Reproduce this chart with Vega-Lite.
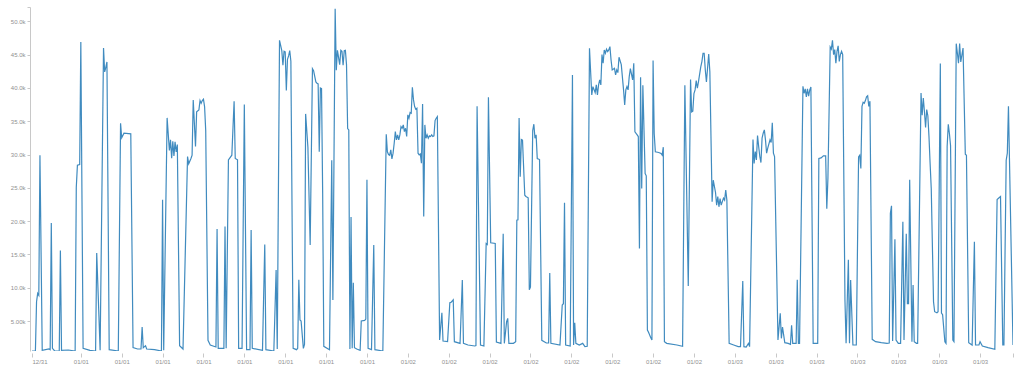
{
"$schema":"https://vega.github.io/schema/vega-lite/v6.json",
"width":981,"height":344,
"autosize":{"type":"none"},
"padding":{"left":32,"top":7,"right":11,"bottom":17},
"background":"white",
"config":{"view":{"stroke":null},"axis":{"grid":false,"labelFont":"Liberation Sans","labelFontSize":6,"labelColor":"#909090"}},
"datasets":{"d0":[
{"t":"2023-12-31T20:25","v":500},{"t":"2023-12-31T20:40","v":500},{"t":"2023-12-31T20:45","v":7900},{"t":"2023-12-31T20:50","v":9150},{"t":"2023-12-31T20:55","v":8850},{"t":"2023-12-31T21:00","v":29900},{"t":"2023-12-31T21:10","v":600},{"t":"2023-12-31T21:40","v":800},{"t":"2023-12-31T21:45","v":700},{"t":"2023-12-31T21:50","v":19700},{"t":"2023-12-31T21:55","v":900},{"t":"2023-12-31T22:05","v":500},{"t":"2023-12-31T22:25","v":500},{"t":"2023-12-31T22:30","v":15600},{"t":"2023-12-31T22:35","v":600},{"t":"2023-12-31T23:05","v":650},{"t":"2023-12-31T23:35","v":500},{"t":"2023-12-31T23:40","v":25100},{"t":"2023-12-31T23:45","v":28400},{"t":"2023-12-31T23:55","v":28500},
{"t":"2024-01-01T00:00","v":46900},{"t":"2024-01-01T00:10","v":900},{"t":"2024-01-01T00:40","v":600},{"t":"2024-01-01T01:05","v":500},{"t":"2024-01-01T01:10","v":15200},{"t":"2024-01-01T01:25","v":600},{"t":"2024-01-01T01:40","v":46000},{"t":"2024-01-01T01:45","v":42400},{"t":"2024-01-01T01:50","v":43100},{"t":"2024-01-01T01:55","v":43900},{"t":"2024-01-01T02:05","v":700},{"t":"2024-01-01T02:45","v":500},{"t":"2024-01-01T02:55","v":34700},{"t":"2024-01-01T03:00","v":32500},{"t":"2024-01-01T03:10","v":33200},{"t":"2024-01-01T03:40","v":33100},{"t":"2024-01-01T03:50","v":1000},{"t":"2024-01-01T04:10","v":800},{"t":"2024-01-01T04:25","v":800},{"t":"2024-01-01T04:30","v":4100},{"t":"2024-01-01T04:35","v":1000},{"t":"2024-01-01T04:45","v":1300},{"t":"2024-01-01T04:50","v":800},{"t":"2024-01-01T05:25","v":700},{"t":"2024-01-01T05:55","v":500},{"t":"2024-01-01T06:00","v":23200},{"t":"2024-01-01T06:05","v":600},{"t":"2024-01-01T06:20","v":35500},{"t":"2024-01-01T06:30","v":30600},{"t":"2024-01-01T06:35","v":32200},{"t":"2024-01-01T06:40","v":29450},{"t":"2024-01-01T06:45","v":32000},{"t":"2024-01-01T06:50","v":29800},{"t":"2024-01-01T06:55","v":31900},{"t":"2024-01-01T07:00","v":30400},{"t":"2024-01-01T07:05","v":31500},{"t":"2024-01-01T07:15","v":1300},{"t":"2024-01-01T07:30","v":800},{"t":"2024-01-01T07:50","v":29700},{"t":"2024-01-01T07:55","v":28600},{"t":"2024-01-01T08:05","v":29400},{"t":"2024-01-01T08:10","v":29900},{"t":"2024-01-01T08:15","v":38200},{"t":"2024-01-01T08:25","v":31200},{"t":"2024-01-01T08:30","v":36400},{"t":"2024-01-01T08:40","v":36700},{"t":"2024-01-01T08:45","v":38100},{"t":"2024-01-01T08:50","v":37700},{"t":"2024-01-01T08:55","v":38100},{"t":"2024-01-01T09:00","v":38300},{"t":"2024-01-01T09:05","v":37200},{"t":"2024-01-01T09:10","v":33600},{"t":"2024-01-01T09:20","v":2100},{"t":"2024-01-01T09:30","v":1400},{"t":"2024-01-01T09:55","v":1100},{"t":"2024-01-01T10:00","v":18800},{"t":"2024-01-01T10:05","v":900},{"t":"2024-01-01T10:30","v":900},{"t":"2024-01-01T10:35","v":19200},{"t":"2024-01-01T10:40","v":900},{"t":"2024-01-01T10:50","v":29200},{"t":"2024-01-01T11:05","v":29900},{"t":"2024-01-01T11:15","v":38000},{"t":"2024-01-01T11:20","v":29400},{"t":"2024-01-01T11:30","v":29200},{"t":"2024-01-01T11:35","v":900},{"t":"2024-01-01T11:50","v":900},{"t":"2024-01-01T12:00","v":37500},{"t":"2024-01-01T12:10","v":700},{"t":"2024-01-01T12:25","v":700},{"t":"2024-01-01T12:30","v":18650},{"t":"2024-01-01T12:35","v":900},{"t":"2024-01-01T13:20","v":600},{"t":"2024-01-01T13:30","v":16500},{"t":"2024-01-01T13:35","v":700},{"t":"2024-01-01T14:10","v":500},{"t":"2024-01-01T14:20","v":12650},{"t":"2024-01-01T14:25","v":800},{"t":"2024-01-01T14:35","v":47150},{"t":"2024-01-01T14:45","v":45600},{"t":"2024-01-01T14:50","v":43400},{"t":"2024-01-01T14:55","v":45500},{"t":"2024-01-01T15:00","v":45400},{"t":"2024-01-01T15:05","v":39600},{"t":"2024-01-01T15:10","v":44300},{"t":"2024-01-01T15:15","v":44800},{"t":"2024-01-01T15:20","v":45600},{"t":"2024-01-01T15:25","v":44000},{"t":"2024-01-01T15:35","v":900},{"t":"2024-01-01T15:50","v":700},{"t":"2024-01-01T15:55","v":900},{"t":"2024-01-01T16:00","v":11200},{"t":"2024-01-01T16:05","v":5150},{"t":"2024-01-01T16:10","v":5000},{"t":"2024-01-01T16:20","v":900},{"t":"2024-01-01T16:25","v":1500},{"t":"2024-01-01T16:30","v":36100},{"t":"2024-01-01T16:40","v":31100},{"t":"2024-01-01T16:50","v":16400},{"t":"2024-01-01T17:00","v":42900},{"t":"2024-01-01T17:05","v":42600},{"t":"2024-01-01T17:15","v":40900},{"t":"2024-01-01T17:20","v":40700},{"t":"2024-01-01T17:25","v":40600},{"t":"2024-01-01T17:30","v":30400},{"t":"2024-01-01T17:35","v":40000},{"t":"2024-01-01T17:40","v":39900},{"t":"2024-01-01T17:45","v":24200},{"t":"2024-01-01T17:50","v":1200},{"t":"2024-01-01T18:15","v":700},{"t":"2024-01-01T18:25","v":29150},{"t":"2024-01-01T18:30","v":8150},{"t":"2024-01-01T18:40","v":51900},{"t":"2024-01-01T18:45","v":42650},{"t":"2024-01-01T18:50","v":45650},{"t":"2024-01-01T19:00","v":43500},{"t":"2024-01-01T19:05","v":45650},{"t":"2024-01-01T19:10","v":45500},{"t":"2024-01-01T19:15","v":43400},{"t":"2024-01-01T19:20","v":45600},{"t":"2024-01-01T19:25","v":45650},{"t":"2024-01-01T19:30","v":43500},{"t":"2024-01-01T19:35","v":33900},{"t":"2024-01-01T19:40","v":33700},{"t":"2024-01-01T19:45","v":800},{"t":"2024-01-01T19:50","v":20600},{"t":"2024-01-01T19:55","v":900},{"t":"2024-01-01T20:00","v":10750},{"t":"2024-01-01T20:05","v":1000},{"t":"2024-01-01T20:15","v":800},{"t":"2024-01-01T20:30","v":600},{"t":"2024-01-01T20:35","v":5000},{"t":"2024-01-01T20:50","v":5100},{"t":"2024-01-01T20:55","v":5300},{"t":"2024-01-01T21:00","v":26200},{"t":"2024-01-01T21:05","v":900},{"t":"2024-01-01T21:20","v":700},{"t":"2024-01-01T21:30","v":16400},{"t":"2024-01-01T21:35","v":700},{"t":"2024-01-01T22:10","v":500},{"t":"2024-01-01T22:25","v":33050},{"t":"2024-01-01T22:30","v":30400},{"t":"2024-01-01T22:35","v":30000},{"t":"2024-01-01T22:40","v":29900},{"t":"2024-01-01T22:45","v":30700},{"t":"2024-01-01T22:50","v":29350},{"t":"2024-01-01T22:55","v":30200},{"t":"2024-01-01T23:00","v":31700},{"t":"2024-01-01T23:05","v":33450},{"t":"2024-01-01T23:10","v":32200},{"t":"2024-01-01T23:15","v":32950},{"t":"2024-01-01T23:20","v":32200},{"t":"2024-01-01T23:25","v":32950},{"t":"2024-01-01T23:30","v":34200},{"t":"2024-01-01T23:35","v":33950},{"t":"2024-01-01T23:40","v":34450},{"t":"2024-01-01T23:45","v":33450},{"t":"2024-01-01T23:50","v":33950},{"t":"2024-01-01T23:55","v":32700},
{"t":"2024-01-02T00:00","v":35950},{"t":"2024-01-02T00:05","v":35450},{"t":"2024-01-02T00:10","v":36300},{"t":"2024-01-02T00:15","v":36200},{"t":"2024-01-02T00:20","v":40100},{"t":"2024-01-02T00:25","v":38200},{"t":"2024-01-02T00:30","v":37200},{"t":"2024-01-02T00:35","v":36800},{"t":"2024-01-02T00:40","v":36950},{"t":"2024-01-02T00:45","v":30200},{"t":"2024-01-02T00:50","v":29950},{"t":"2024-01-02T00:55","v":30100},{"t":"2024-01-02T01:00","v":28700},{"t":"2024-01-02T01:05","v":37600},{"t":"2024-01-02T01:10","v":20700},{"t":"2024-01-02T01:15","v":34450},{"t":"2024-01-02T01:20","v":32450},{"t":"2024-01-02T01:25","v":32950},{"t":"2024-01-02T01:30","v":32450},{"t":"2024-01-02T01:35","v":32800},{"t":"2024-01-02T01:40","v":32700},{"t":"2024-01-02T01:45","v":32950},{"t":"2024-01-02T01:50","v":32700},{"t":"2024-01-02T01:55","v":32800},{"t":"2024-01-02T02:00","v":35100},{"t":"2024-01-02T02:05","v":35450},{"t":"2024-01-02T02:10","v":35700},{"t":"2024-01-02T02:20","v":2150},{"t":"2024-01-02T02:30","v":6250},{"t":"2024-01-02T02:35","v":2000},{"t":"2024-01-02T02:55","v":1900},{"t":"2024-01-02T03:05","v":7750},{"t":"2024-01-02T03:10","v":7800},{"t":"2024-01-02T03:20","v":8200},{"t":"2024-01-02T03:25","v":1900},{"t":"2024-01-02T03:50","v":1650},{"t":"2024-01-02T04:00","v":11150},{"t":"2024-01-02T04:05","v":1650},{"t":"2024-01-02T04:25","v":1400},{"t":"2024-01-02T04:55","v":1250},{"t":"2024-01-02T05:00","v":1300},{"t":"2024-01-02T05:05","v":37250},{"t":"2024-01-02T05:20","v":1400},{"t":"2024-01-02T05:35","v":1250},{"t":"2024-01-02T05:45","v":16650},{"t":"2024-01-02T05:50","v":16500},{"t":"2024-01-02T05:55","v":38600},{"t":"2024-01-02T06:05","v":16750},{"t":"2024-01-02T06:25","v":16650},{"t":"2024-01-02T06:30","v":1850},{"t":"2024-01-02T06:50","v":1650},{"t":"2024-01-02T07:00","v":18100},{"t":"2024-01-02T07:05","v":1650},{"t":"2024-01-02T07:15","v":4900},{"t":"2024-01-02T07:20","v":5400},{"t":"2024-01-02T07:25","v":1650},{"t":"2024-01-02T07:45","v":1650},{"t":"2024-01-02T07:55","v":1900},{"t":"2024-01-02T08:00","v":20150},{"t":"2024-01-02T08:05","v":20200},{"t":"2024-01-02T08:10","v":35500},{"t":"2024-01-02T08:15","v":26650},{"t":"2024-01-02T08:20","v":32250},{"t":"2024-01-02T08:25","v":32150},{"t":"2024-01-02T08:35","v":23900},{"t":"2024-01-02T08:40","v":23700},{"t":"2024-01-02T08:50","v":23500},{"t":"2024-01-02T08:55","v":9700},{"t":"2024-01-02T09:00","v":10100},{"t":"2024-01-02T09:10","v":33600},{"t":"2024-01-02T09:15","v":34550},{"t":"2024-01-02T09:20","v":32450},{"t":"2024-01-02T09:25","v":32950},{"t":"2024-01-02T09:30","v":29400},{"t":"2024-01-02T09:40","v":29250},{"t":"2024-01-02T09:50","v":2100},{"t":"2024-01-02T10:10","v":1700},{"t":"2024-01-02T10:20","v":1700},{"t":"2024-01-02T10:25","v":12200},{"t":"2024-01-02T10:30","v":1650},{"t":"2024-01-02T11:10","v":1400},{"t":"2024-01-02T11:20","v":7400},{"t":"2024-01-02T11:25","v":7600},{"t":"2024-01-02T11:30","v":22750},{"t":"2024-01-02T11:35","v":1400},{"t":"2024-01-02T11:55","v":1250},{"t":"2024-01-02T12:05","v":41950},{"t":"2024-01-02T12:10","v":1400},{"t":"2024-01-02T12:15","v":4750},{"t":"2024-01-02T12:20","v":1650},{"t":"2024-01-02T12:35","v":1400},{"t":"2024-01-02T12:50","v":1650},{"t":"2024-01-02T13:00","v":1150},{"t":"2024-01-02T13:10","v":1200},{"t":"2024-01-02T13:20","v":45950},{"t":"2024-01-02T13:30","v":38950},{"t":"2024-01-02T13:35","v":40200},{"t":"2024-01-02T13:45","v":39300},{"t":"2024-01-02T13:50","v":40450},{"t":"2024-01-02T13:55","v":38950},{"t":"2024-01-02T14:00","v":40450},{"t":"2024-01-02T14:05","v":41200},{"t":"2024-01-02T14:10","v":40450},{"t":"2024-01-02T14:15","v":45000},{"t":"2024-01-02T14:20","v":43700},{"t":"2024-01-02T14:25","v":45700},{"t":"2024-01-02T14:30","v":45200},{"t":"2024-01-02T14:35","v":45800},{"t":"2024-01-02T14:40","v":45450},{"t":"2024-01-02T14:45","v":45700},{"t":"2024-01-02T14:50","v":46200},{"t":"2024-01-02T14:55","v":44200},{"t":"2024-01-02T15:00","v":42700},{"t":"2024-01-02T15:10","v":42950},{"t":"2024-01-02T15:15","v":41950},{"t":"2024-01-02T15:20","v":42700},{"t":"2024-01-02T15:25","v":42300},{"t":"2024-01-02T15:30","v":44600},{"t":"2024-01-02T15:40","v":43500},{"t":"2024-01-02T15:50","v":39700},{"t":"2024-01-02T15:55","v":37450},{"t":"2024-01-02T16:00","v":39700},{"t":"2024-01-02T16:05","v":40200},{"t":"2024-01-02T16:10","v":39700},{"t":"2024-01-02T16:15","v":41700},{"t":"2024-01-02T16:20","v":42900},{"t":"2024-01-02T16:30","v":41200},{"t":"2024-01-02T16:35","v":43700},{"t":"2024-01-02T16:40","v":33400},{"t":"2024-01-02T16:50","v":32950},{"t":"2024-01-02T16:55","v":32700},{"t":"2024-01-02T17:00","v":15900},{"t":"2024-01-02T17:05","v":41600},{"t":"2024-01-02T17:10","v":24900},{"t":"2024-01-02T17:15","v":40400},{"t":"2024-01-02T17:25","v":27150},{"t":"2024-01-02T17:30","v":26800},{"t":"2024-01-02T17:35","v":3650},{"t":"2024-01-02T17:40","v":3300},{"t":"2024-01-02T17:50","v":2500},{"t":"2024-01-02T17:55","v":2150},{"t":"2024-01-02T18:00","v":44100},{"t":"2024-01-02T18:05","v":33150},{"t":"2024-01-02T18:10","v":30400},{"t":"2024-01-02T18:25","v":30300},{"t":"2024-01-02T18:35","v":30150},{"t":"2024-01-02T18:40","v":29900},{"t":"2024-01-02T18:45","v":31100},{"t":"2024-01-02T18:50","v":1900},{"t":"2024-01-02T19:00","v":1650},{"t":"2024-01-02T19:45","v":1400},{"t":"2024-01-02T20:10","v":1200},{"t":"2024-01-02T20:20","v":40400},{"t":"2024-01-02T20:35","v":10250},{"t":"2024-01-02T20:45","v":41250},{"t":"2024-01-02T20:50","v":36400},{"t":"2024-01-02T20:55","v":36500},{"t":"2024-01-02T21:00","v":39150},{"t":"2024-01-02T21:05","v":39700},{"t":"2024-01-02T21:10","v":41100},{"t":"2024-01-02T21:15","v":39950},{"t":"2024-01-02T21:20","v":40950},{"t":"2024-01-02T21:30","v":43150},{"t":"2024-01-02T21:35","v":43950},{"t":"2024-01-02T21:40","v":45200},{"t":"2024-01-02T21:45","v":45200},{"t":"2024-01-02T21:50","v":42700},{"t":"2024-01-02T21:55","v":40900},{"t":"2024-01-02T22:05","v":45100},{"t":"2024-01-02T22:10","v":42450},{"t":"2024-01-02T22:20","v":22900},{"t":"2024-01-02T22:25","v":26150},{"t":"2024-01-02T22:35","v":24300},{"t":"2024-01-02T22:40","v":22400},{"t":"2024-01-02T22:45","v":23700},{"t":"2024-01-02T22:50","v":22150},{"t":"2024-01-02T22:55","v":23400},{"t":"2024-01-02T23:00","v":22400},{"t":"2024-01-02T23:10","v":23450},{"t":"2024-01-02T23:15","v":23150},{"t":"2024-01-02T23:20","v":24650},{"t":"2024-01-02T23:25","v":23150},{"t":"2024-01-02T23:35","v":1650},{"t":"2024-01-02T23:55","v":1400},
{"t":"2024-01-03T00:15","v":1150},{"t":"2024-01-03T00:25","v":1150},{"t":"2024-01-03T00:35","v":11000},{"t":"2024-01-03T00:40","v":1150},{"t":"2024-01-03T00:50","v":1100},{"t":"2024-01-03T01:00","v":1650},{"t":"2024-01-03T01:05","v":1150},{"t":"2024-01-03T01:20","v":32250},{"t":"2024-01-03T01:25","v":28650},{"t":"2024-01-03T01:30","v":30450},{"t":"2024-01-03T01:35","v":29200},{"t":"2024-01-03T01:40","v":32850},{"t":"2024-01-03T01:45","v":31200},{"t":"2024-01-03T01:50","v":29700},{"t":"2024-01-03T01:55","v":28800},{"t":"2024-01-03T02:00","v":32450},{"t":"2024-01-03T02:05","v":33200},{"t":"2024-01-03T02:10","v":33700},{"t":"2024-01-03T02:15","v":32200},{"t":"2024-01-03T02:20","v":30200},{"t":"2024-01-03T02:25","v":30950},{"t":"2024-01-03T02:35","v":32200},{"t":"2024-01-03T02:40","v":31800},{"t":"2024-01-03T02:45","v":34750},{"t":"2024-01-03T02:50","v":30200},{"t":"2024-01-03T02:55","v":29700},{"t":"2024-01-03T03:10","v":2150},{"t":"2024-01-03T03:20","v":6150},{"t":"2024-01-03T03:25","v":2400},{"t":"2024-01-03T03:30","v":4100},{"t":"2024-01-03T03:40","v":1750},{"t":"2024-01-03T03:55","v":1650},{"t":"2024-01-03T04:05","v":1500},{"t":"2024-01-03T04:10","v":4350},{"t":"2024-01-03T04:15","v":1650},{"t":"2024-01-03T04:30","v":1650},{"t":"2024-01-03T04:35","v":11200},{"t":"2024-01-03T04:40","v":1650},{"t":"2024-01-03T04:45","v":1650},{"t":"2024-01-03T05:00","v":40250},{"t":"2024-01-03T05:05","v":39200},{"t":"2024-01-03T05:10","v":39850},{"t":"2024-01-03T05:15","v":38650},{"t":"2024-01-03T05:20","v":39850},{"t":"2024-01-03T05:25","v":38750},{"t":"2024-01-03T05:30","v":39700},{"t":"2024-01-03T05:35","v":40150},{"t":"2024-01-03T05:45","v":1650},{"t":"2024-01-03T06:05","v":1650},{"t":"2024-01-03T06:10","v":29400},{"t":"2024-01-03T06:20","v":29500},{"t":"2024-01-03T06:30","v":29800},{"t":"2024-01-03T06:40","v":29800},{"t":"2024-01-03T06:45","v":21850},{"t":"2024-01-03T06:50","v":26450},{"t":"2024-01-03T07:00","v":46150},{"t":"2024-01-03T07:05","v":45830},{"t":"2024-01-03T07:10","v":47150},{"t":"2024-01-03T07:15","v":45000},{"t":"2024-01-03T07:20","v":45750},{"t":"2024-01-03T07:25","v":43730},{"t":"2024-01-03T07:30","v":45480},{"t":"2024-01-03T07:35","v":46330},{"t":"2024-01-03T07:40","v":43980},{"t":"2024-01-03T07:45","v":45000},{"t":"2024-01-03T07:50","v":45500},{"t":"2024-01-03T07:55","v":45000},{"t":"2024-01-03T08:05","v":8150},{"t":"2024-01-03T08:10","v":1650},{"t":"2024-01-03T08:20","v":14200},{"t":"2024-01-03T08:25","v":1650},{"t":"2024-01-03T08:30","v":11150},{"t":"2024-01-03T08:40","v":1400},{"t":"2024-01-03T08:55","v":1400},{"t":"2024-01-03T09:05","v":29650},{"t":"2024-01-03T09:10","v":29900},{"t":"2024-01-03T09:15","v":27900},{"t":"2024-01-03T09:20","v":37250},{"t":"2024-01-03T09:25","v":37830},{"t":"2024-01-03T09:30","v":37700},{"t":"2024-01-03T09:35","v":38100},{"t":"2024-01-03T09:40","v":38650},{"t":"2024-01-03T09:45","v":38820},{"t":"2024-01-03T09:50","v":37220},{"t":"2024-01-03T09:55","v":38000},{"t":"2024-01-03T10:05","v":2250},{"t":"2024-01-03T10:20","v":1900},{"t":"2024-01-03T10:45","v":1750},{"t":"2024-01-03T11:10","v":1650},{"t":"2024-01-03T11:20","v":1700},{"t":"2024-01-03T11:25","v":21190},{"t":"2024-01-03T11:30","v":22290},{"t":"2024-01-03T11:35","v":2000},{"t":"2024-01-03T11:45","v":17280},{"t":"2024-01-03T11:50","v":2150},{"t":"2024-01-03T12:00","v":1650},{"t":"2024-01-03T12:10","v":1650},{"t":"2024-01-03T12:20","v":19900},{"t":"2024-01-03T12:25","v":2150},{"t":"2024-01-03T12:35","v":18100},{"t":"2024-01-03T12:40","v":7600},{"t":"2024-01-03T12:45","v":7600},{"t":"2024-01-03T12:50","v":26200},{"t":"2024-01-03T13:00","v":1900},{"t":"2024-01-03T13:05","v":10400},{"t":"2024-01-03T13:10","v":1900},{"t":"2024-01-03T13:20","v":1650},{"t":"2024-01-03T13:25","v":1650},{"t":"2024-01-03T13:40","v":39250},{"t":"2024-01-03T13:45","v":35900},{"t":"2024-01-03T13:50","v":38480},{"t":"2024-01-03T13:55","v":36460},{"t":"2024-01-03T14:00","v":34050},{"t":"2024-01-03T14:05","v":36750},{"t":"2024-01-03T14:10","v":35820},{"t":"2024-01-03T14:15","v":32710},{"t":"2024-01-03T14:20","v":28650},{"t":"2024-01-03T14:25","v":24900},{"t":"2024-01-03T14:35","v":7900},{"t":"2024-01-03T14:40","v":6400},{"t":"2024-01-03T14:50","v":6250},{"t":"2024-01-03T14:55","v":6400},{"t":"2024-01-03T15:05","v":43650},{"t":"2024-01-03T15:10","v":6200},{"t":"2024-01-03T15:15","v":5950},{"t":"2024-01-03T15:25","v":1900},{"t":"2024-01-03T15:30","v":1650},{"t":"2024-01-03T15:35","v":31200},{"t":"2024-01-03T15:40","v":34550},{"t":"2024-01-03T15:45","v":33150},{"t":"2024-01-03T15:50","v":31350},{"t":"2024-01-03T16:00","v":2150},{"t":"2024-01-03T16:05","v":1900},{"t":"2024-01-03T16:15","v":46650},{"t":"2024-01-03T16:20","v":45240},{"t":"2024-01-03T16:25","v":43700},{"t":"2024-01-03T16:30","v":46650},{"t":"2024-01-03T16:35","v":43900},{"t":"2024-01-03T16:45","v":45990},{"t":"2024-01-03T16:55","v":30050},{"t":"2024-01-03T17:00","v":29900},{"t":"2024-01-03T17:10","v":1750},{"t":"2024-01-03T17:25","v":1400},{"t":"2024-01-03T17:35","v":16900},{"t":"2024-01-03T17:40","v":1400},{"t":"2024-01-03T17:55","v":1400},{"t":"2024-01-03T18:00","v":1900},{"t":"2024-01-03T18:10","v":1250},{"t":"2024-01-03T18:35","v":1000},{"t":"2024-01-03T19:05","v":750},{"t":"2024-01-03T19:15","v":23250},{"t":"2024-01-03T19:25","v":23550},{"t":"2024-01-03T19:30","v":23700},{"t":"2024-01-03T19:40","v":1400},{"t":"2024-01-03T19:45","v":1400},{"t":"2024-01-03T19:55","v":29150},{"t":"2024-01-03T20:00","v":30200},{"t":"2024-01-03T20:05","v":37250},{"t":"2024-01-03T20:25","v":1400}
]},
"data":{"name":"d0"},
"mark":{"type":"line","color":"#1f77b4","strokeWidth":1.2,"opacity":0.85,"clip":true},
"encoding":{
"x":{"field":"t","type":"temporal",
 "scale":{"domain":[{"year":2023,"month":12,"date":31,"hours":20,"minutes":25},{"year":2024,"month":1,"date":3,"hours":20,"minutes":25}],"nice":false},
 "axis":{"title":null,"domain":false,"tickSize":4,"tickColor":"#c8c8c8","offset":2,"labelPadding":1,"labelFlush":true,"labelOverlap":false,
  "labelExpr":"datum.value > datetime(2024,0,3,19,0) ? '' : timeFormat(datum.value, '%m/%d')",
  "values":[{"year":2023,"month":12,"date":31,"hours":20,"minutes":25},
   {"year":2024,"month":1,"date":1,"hours":0},{"year":2024,"month":1,"date":1,"hours":3},{"year":2024,"month":1,"date":1,"hours":6},{"year":2024,"month":1,"date":1,"hours":9},{"year":2024,"month":1,"date":1,"hours":12},{"year":2024,"month":1,"date":1,"hours":15},{"year":2024,"month":1,"date":1,"hours":18},{"year":2024,"month":1,"date":1,"hours":21},
   {"year":2024,"month":1,"date":2,"hours":0},{"year":2024,"month":1,"date":2,"hours":3},{"year":2024,"month":1,"date":2,"hours":6},{"year":2024,"month":1,"date":2,"hours":9},{"year":2024,"month":1,"date":2,"hours":12},{"year":2024,"month":1,"date":2,"hours":15},{"year":2024,"month":1,"date":2,"hours":18},{"year":2024,"month":1,"date":2,"hours":21},
   {"year":2024,"month":1,"date":3,"hours":0},{"year":2024,"month":1,"date":3,"hours":3},{"year":2024,"month":1,"date":3,"hours":6},{"year":2024,"month":1,"date":3,"hours":9},{"year":2024,"month":1,"date":3,"hours":12},{"year":2024,"month":1,"date":3,"hours":15},{"year":2024,"month":1,"date":3,"hours":18},
   {"year":2024,"month":1,"date":3,"hours":20,"minutes":25}]}},
"y":{"field":"v","type":"quantitative",
 "scale":{"domain":[500,52150],"nice":false,"zero":false},
 "axis":{"title":null,"domainColor":"#c8c8c8","tickColor":"#c8c8c8","tickSize":3,"offset":2,"labelPadding":2,
  "values":[5000,10000,15000,20000,25000,30000,35000,40000,45000,50000,52150],
  "labelExpr":"datum.value > 51000 ? '' : format(datum.value, '.3s')"}}
}
}
